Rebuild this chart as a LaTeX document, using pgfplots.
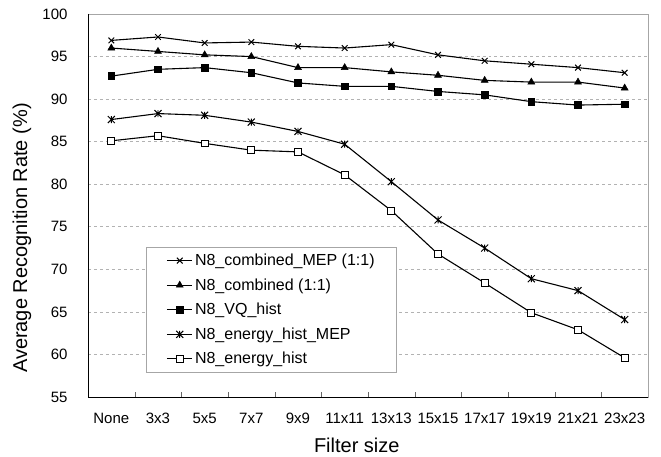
\documentclass[border=0pt]{standalone}
\usepackage{fontspec}
\setmainfont{Liberation Sans}
\usepackage{pgfplots}
\pgfplotsset{compat=1.18}
\usetikzlibrary{calc}

% Excel style star marker: x with a vertical bar
\pgfdeclareplotmark{xstar}{%
  \pgfpathmoveto{\pgfqpoint{-\pgfplotmarksize}{-\pgfplotmarksize}}%
  \pgfpathlineto{\pgfqpoint{\pgfplotmarksize}{\pgfplotmarksize}}%
  \pgfpathmoveto{\pgfqpoint{-\pgfplotmarksize}{\pgfplotmarksize}}%
  \pgfpathlineto{\pgfqpoint{\pgfplotmarksize}{-\pgfplotmarksize}}%
  \pgfpathmoveto{\pgfqpoint{0pt}{-\pgfplotmarksize}}%
  \pgfpathlineto{\pgfqpoint{0pt}{\pgfplotmarksize}}%
  \pgfusepathqstroke}

\begin{document}
\begin{tikzpicture}
\begin{axis}[
    name=ax,
    scale only axis,
    width=560bp, height=383bp,
    xmin=-0.5, xmax=11.5,
    ymin=55, ymax=100,
    xtick={0,...,11},
    xticklabels={None,3x3,5x5,7x7,9x9,11x11,13x13,15x15,17x17,19x19,21x21,23x23},
    xtick style={draw=none},
    extra x ticks={0.5,1.5,...,10.5},
    extra x tick labels={},
    extra x tick style={tick align=inside, major tick length=5bp, xtick style={draw=black!60}},
    xtick pos=bottom,
    ytick={55,60,...,100},
    ytick style={draw=none},
    ymajorgrids,
    grid style={dashed, gray!60, line width=0.6pt},
    axis line style={gray!70, line width=0.8pt},
    tick label style={font=\fontsize{15bp}{18bp}\selectfont},
    /pgf/number format/assume math mode=true,
    yticklabel style={xshift=-17bp},
    xticklabel style={yshift=-13bp},
    xlabel={Filter size},
    ylabel={Average Recognition Rate (\%)},
    label style={font=\fontsize{20bp}{24bp}\selectfont},
    xlabel style={at={(axis description cs:0.48,-0.125)}, anchor=center},
    ylabel style={at={(axis description cs:-0.118,0.415)}, anchor=center},
    legend style={at={(axis description cs:0.104,0.392)}, anchor=north west,
        draw=gray!70, font=\fontsize{16bp}{19bp}\selectfont,
        row sep=7.5bp, inner xsep=20bp, inner ysep=5bp},
    legend cell align=left,
    legend image code/.code={\draw[mark repeat=2,mark phase=2]
        plot coordinates {(0cm,0cm) (0.45cm,0cm) (0.9cm,0cm)};},
    every axis plot/.append style={black, line width=1.1pt, mark size=3.4bp},
    after end axis/.code={
        \draw[black, line width=0.9pt] (rel axis cs:0,1) -- (rel axis cs:0,0) -- (rel axis cs:1,0);
    },
]
\addplot[mark=x, mark size=4bp, mark options={line width=1pt}] coordinates {
    (0,96.9) (1,97.3) (2,96.6) (3,96.7) (4,96.2) (5,96.0)
    (6,96.4) (7,95.2) (8,94.5) (9,94.1) (10,93.7) (11,93.1)};
\addlegendentry{N8\_combined\_MEP (1:1)}
\addplot[mark=triangle*, mark size=4bp, mark options={line width=0.5pt}] coordinates {
    (0,96.0) (1,95.6) (2,95.2) (3,95.0) (4,93.7) (5,93.7)
    (6,93.2) (7,92.8) (8,92.2) (9,92.0) (10,92.0) (11,91.3)};
\addlegendentry{N8\_combined (1:1)}
\addplot[mark=square*, mark options={line width=0.5pt}] coordinates {
    (0,92.7) (1,93.5) (2,93.7) (3,93.1) (4,91.9) (5,91.5)
    (6,91.5) (7,90.9) (8,90.5) (9,89.7) (10,89.3) (11,89.4)};
\addlegendentry{N8\_VQ\_hist}
\addplot[mark=xstar, mark size=3.5bp, mark options={line width=1pt}] coordinates {
    (0,87.6) (1,88.3) (2,88.1) (3,87.3) (4,86.2) (5,84.7)
    (6,80.3) (7,75.8) (8,72.5) (9,68.9) (10,67.5) (11,64.1)};
\addlegendentry{N8\_energy\_hist\_MEP}
\addplot[mark=square*, mark options={fill=white, line width=0.9pt}] coordinates {
    (0,85.1) (1,85.7) (2,84.8) (3,84.0) (4,83.8) (5,81.1)
    (6,76.9) (7,71.8) (8,68.4) (9,64.9) (10,62.9) (11,59.6)};
\addlegendentry{N8\_energy\_hist}
\end{axis}
\pgfresetboundingbox
\path ($(ax.south west)+(-88bp,-60bp)$) rectangle ($(ax.north east)+(13bp,14bp)$);
\end{tikzpicture}
\end{document}
